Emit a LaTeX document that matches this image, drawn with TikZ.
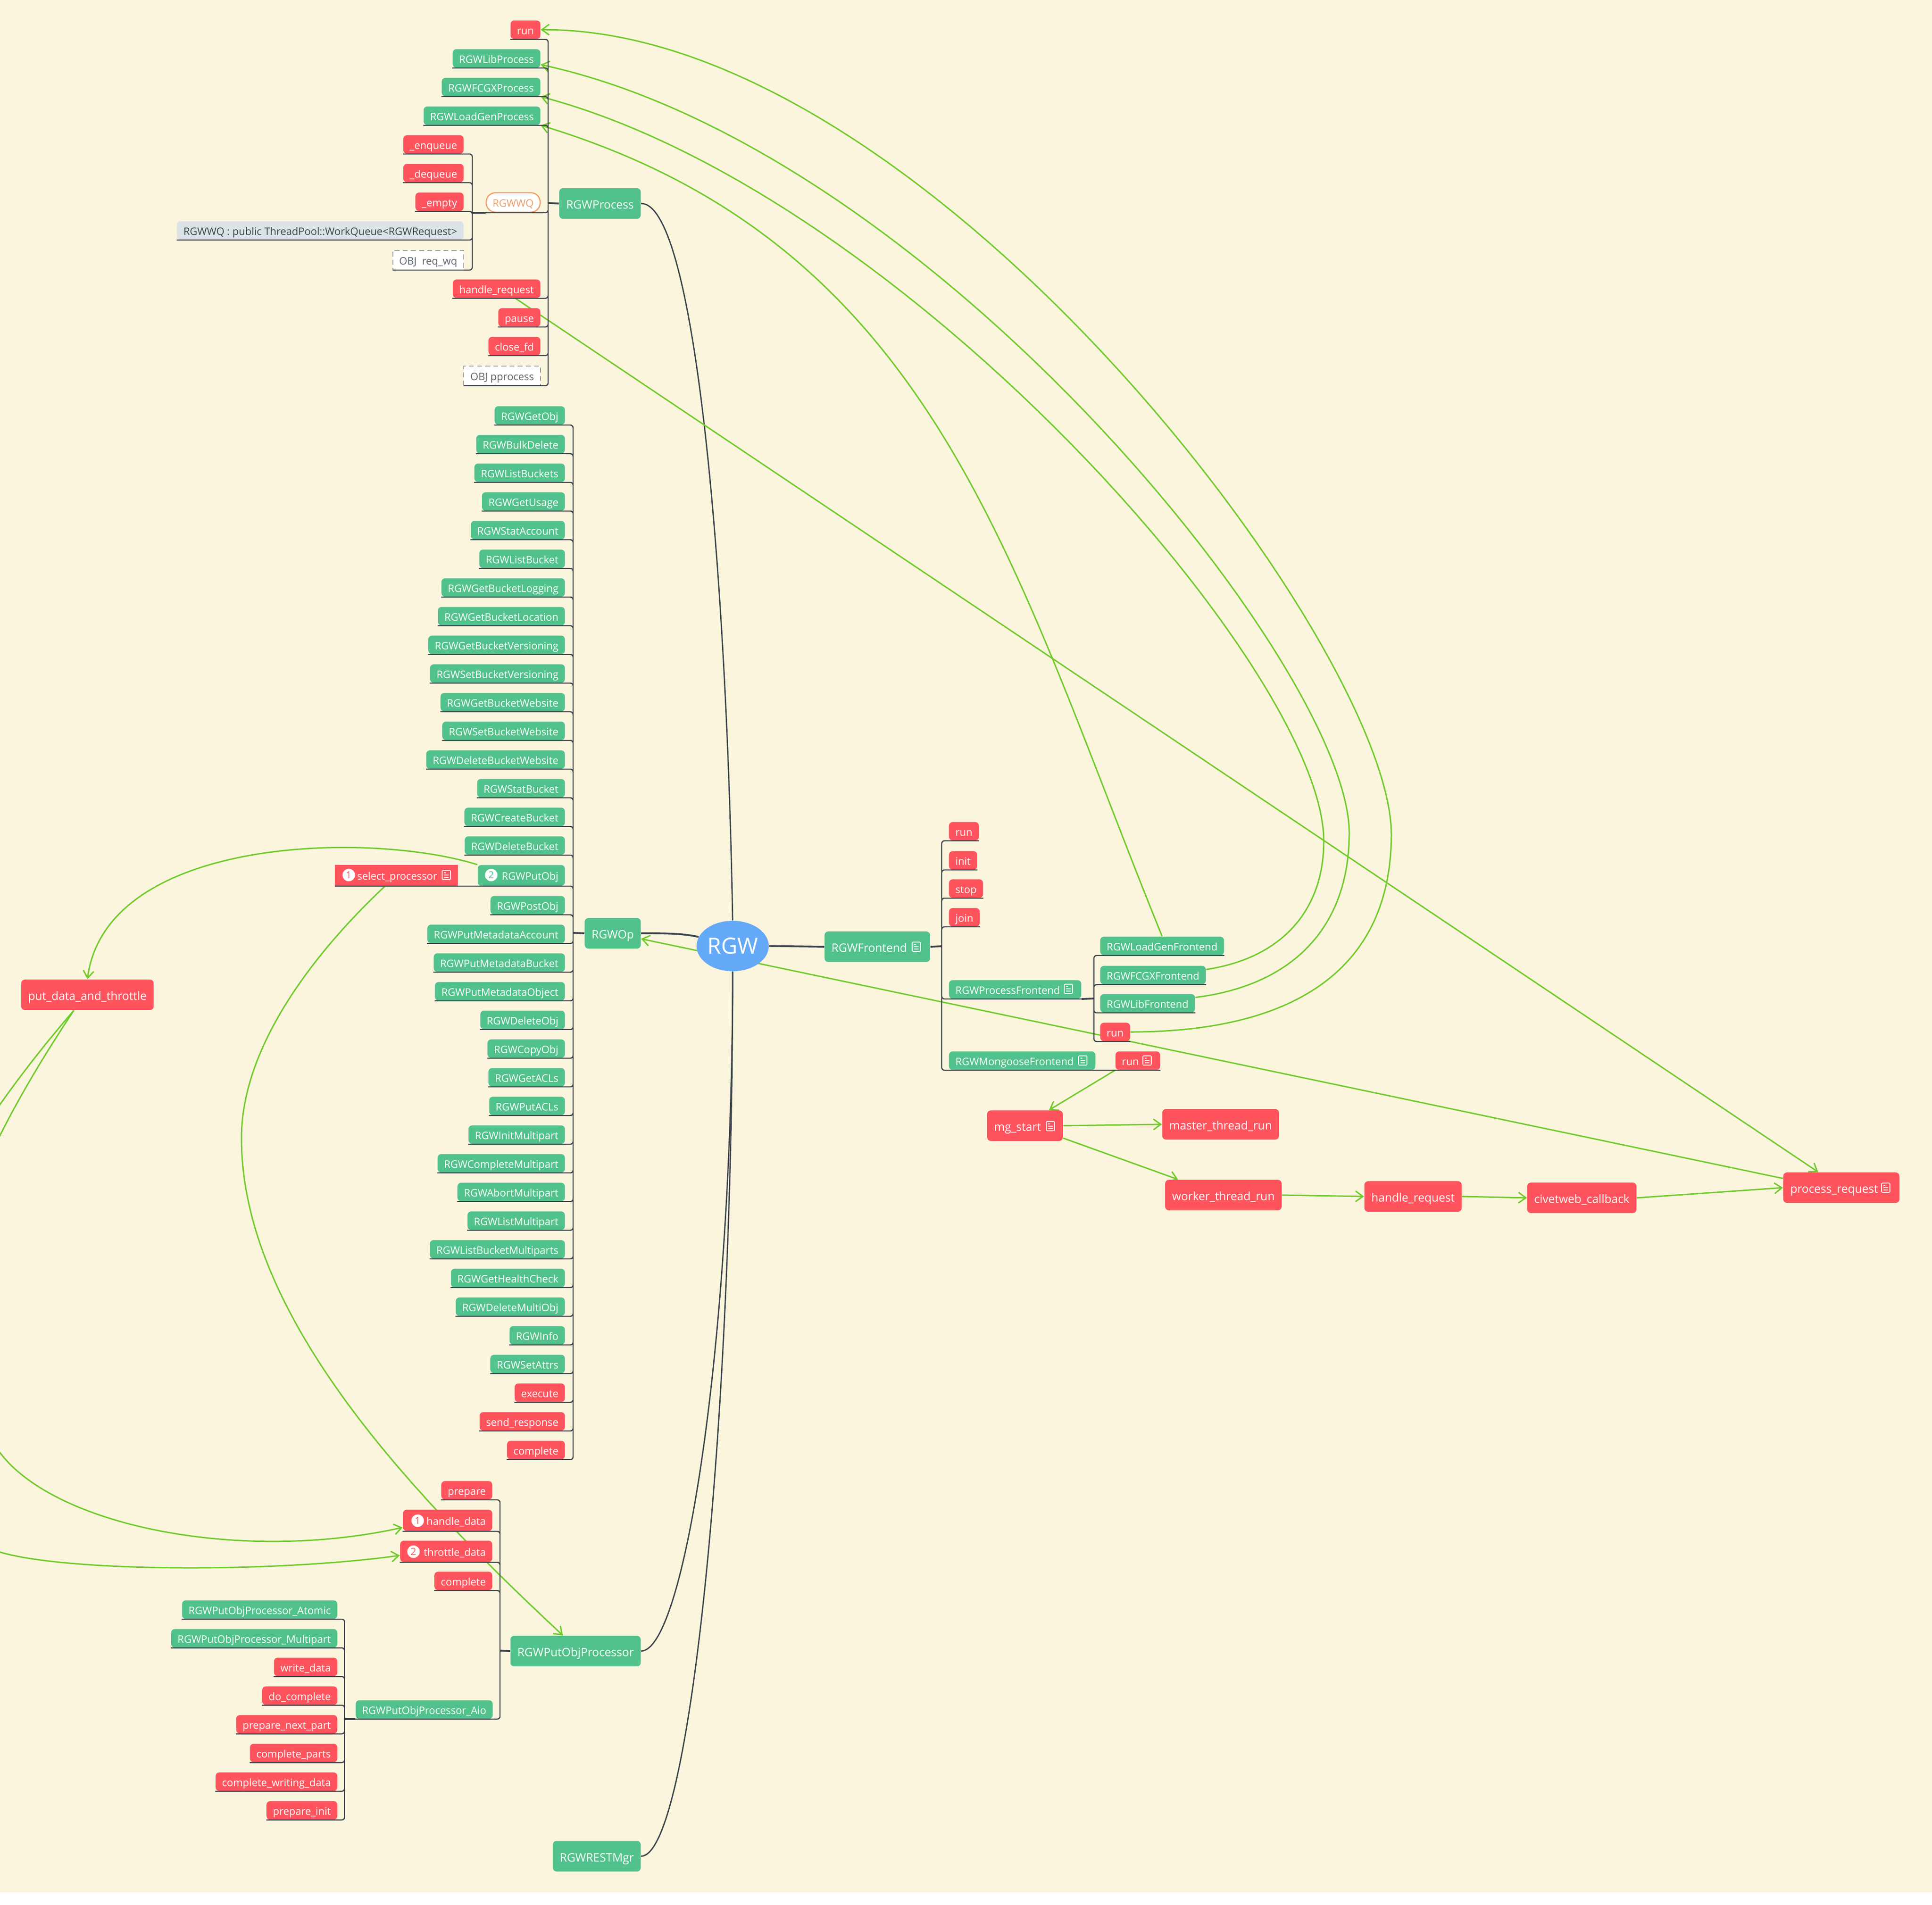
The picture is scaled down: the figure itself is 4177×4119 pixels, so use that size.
\documentclass[tikz,border=0pt]{standalone}
\usepackage{fontspec}
\setmainfont{Open Sans}
\usetikzlibrary{arrows.meta,shapes.geometric,positioning}
\definecolor{paper}{HTML}{FCF5DE}
\definecolor{leafgreen}{HTML}{51C28C}
\definecolor{leafred}{HTML}{FF535D}
\definecolor{rootblue}{HTML}{64A9F8}
\definecolor{branchdark}{HTML}{3D444C}
\definecolor{relgreen}{HTML}{6FCB2B}
\definecolor{wqorange}{HTML}{EE9C68}
\definecolor{wqgrey}{HTML}{DCE3E6}
\definecolor{objgrey}{HTML}{5C646C}
\pgfdeclarelayer{darklines}
\pgfdeclarelayer{rellines}
\pgfdeclarelayer{underlines}
\pgfsetlayers{darklines,rellines,main,underlines}
\tikzset{
  leaf/.style={anchor=south east,text=white,font=\fontsize{6.35}{8}\selectfont,rounded corners=.08cm,
    minimum height=.4cm,inner xsep=.14cm,inner ysep=0pt,text height=6.2pt,text depth=.6pt},
  gleaf/.style={leaf,fill=leafgreen},
  rleaf/.style={leaf,fill=leafred},
  objleaf/.style={leaf,fill=white,draw=objgrey,densely dashed,line width=.3pt,rounded corners=0pt,text=objgrey,minimum height=.42cm},
  big/.style={text=white,font=\fontsize{7.1}{9}\selectfont,rounded corners=.08cm,minimum height=.66cm,inner xsep=.15cm,inner ysep=0pt,
    text height=7.4pt,text depth=.8pt},
  gbig/.style={big,fill=leafgreen},
  rbig/.style={big,fill=leafred},
  badge/.style={circle,fill=white,inner sep=0pt,minimum size=.27cm,font=\fontsize{6}{7}\selectfont},
  branch/.style={draw=branchdark,line width=.7pt,rounded corners=.06cm},
  trunk/.style={draw=branchdark,line width=1.1pt},
  rel/.style={draw=relgreen,line width=.85pt,-{Straight Barb[length=4.5pt,width=6.5pt]}},
  noteicon/.pic={
    \draw[white,line width=.45pt,rounded corners=.02cm] (-9,-10) rectangle (9,10);
    \draw[white,line width=.45pt] (-5,-5) -- (-1,-5) (-5,0) -- (5,0) (-5,5) -- (5,5);
  }
}

\begin{document}
\begin{tikzpicture}[x=.01cm,y=-.01cm]
\useasboundingbox (0,0) rectangle (4177,4119);
\begin{pgfonlayer}{darklines}
\fill[white] (0,0) rectangle (4177,4119);
\fill[paper] (0,0) rectangle (4177,4092);
\end{pgfonlayer}

\node[ellipse,fill=rootblue,minimum width=1.56cm,minimum height=1.09cm,inner sep=0pt,text=white,font=\fontsize{13.7}{16}\selectfont] (rgw) at (1584,2045.5) {RGW};

\node[gbig,anchor=east] (rgwprocess) at (1386,440) {RGWProcess};
\node[gbig,anchor=east] (rgwop) at (1386,2018) {RGWOp};
\node[gbig,anchor=west] (rgwfrontend) at (1782,2047) {RGWFrontend\kern.35cm};
\node[gbig,anchor=east] (rgwputobjprocessor) at (1386,3570) {RGWPutObjProcessor};
\node[gbig,anchor=east] (rgwrestmgr) at (1386,4013.5) {RGWRESTMgr};

\coordinate (processspine) at (1185,439);
\coordinate (wqspine) at (1021,460);
\coordinate (opspine) at (1239,2017);
\coordinate (frontspine) at (2036,2046);
\coordinate (procfrontspine) at (2365,2159);
\coordinate (putprocspine) at (1081,3569);
\coordinate (aiospine) at (745,3717);

\node[rleaf] (processrun) at (1169,85) {run};
\node[gleaf] (rgwlibprocess) at (1169,147) {RGWLibProcess};
\node[gleaf] (rgwfcgxprocess) at (1169,209) {RGWFCGXProcess};
\node[gleaf] (rgwloadgenprocess) at (1169,271) {RGWLoadGenProcess};
\node[rleaf] (enqueue) at (1003,333) {\_enqueue};
\node[rleaf] (dequeue) at (1003,395) {\_dequeue};
\node[rleaf] (empty) at (1003,457) {\_empty};
\node[leaf,fill=wqgrey,text=branchdark] (wqcomment) at (1003,519) {RGWWQ : public ThreadPool::WorkQueue<RGWRequest>};
\node[objleaf] (reqwq) at (1003,584) {OBJ\ \ req\_wq};
\node[leaf,fill=white,draw=wqorange,line width=.7pt,text=wqorange,rounded corners=.2cm,minimum height=.42cm] (rgwwq) at (1169,460) {RGWWQ};
\node[rleaf] (handlerequest) at (1169,645) {handle\_request};
\node[rleaf] (pause) at (1169,707) {pause};
\node[rleaf] (closefd) at (1169,769) {close\_fd};
\node[objleaf] (pprocess) at (1169,834) {OBJ pprocess};

\node[gleaf] (getobj) at (1222,919) {RGWGetObj};
\node[gleaf] (bulkdelete) at (1222,981) {RGWBulkDelete};
\node[gleaf] (listbuckets) at (1222,1043) {RGWListBuckets};
\node[gleaf] (getusage) at (1222,1105) {RGWGetUsage};
\node[gleaf] (stataccount) at (1222,1167) {RGWStatAccount};
\node[gleaf] (listbucket) at (1222,1229) {RGWListBucket};
\node[gleaf] (getbucketlogging) at (1222,1291) {RGWGetBucketLogging};
\node[gleaf] (getbucketlocation) at (1222,1353) {RGWGetBucketLocation};
\node[gleaf] (getbucketversioning) at (1222,1415) {RGWGetBucketVersioning};
\node[gleaf] (setbucketversioning) at (1222,1477) {RGWSetBucketVersioning};
\node[gleaf] (getbucketwebsite) at (1222,1539) {RGWGetBucketWebsite};
\node[gleaf] (setbucketwebsite) at (1222,1601) {RGWSetBucketWebsite};
\node[gleaf] (deletebucketwebsite) at (1222,1663) {RGWDeleteBucketWebsite};
\node[gleaf] (statbucket) at (1222,1725) {RGWStatBucket};
\node[gleaf] (createbucket) at (1222,1787) {RGWCreateBucket};
\node[gleaf] (deletebucket) at (1222,1849) {RGWDeleteBucket};
\node[gleaf,minimum height=.45cm] (putobj) at (1222,1916) {\kern.38cm RGWPutObj};
\node[rleaf,rounded corners=0pt,minimum height=.45cm] (selectprocessor) at (991,1916) {\kern.34cm select\_processor\kern.31cm};
\node[gleaf] (postobj) at (1222,1978) {RGWPostObj};
\node[gleaf] (putmetaaccount) at (1222,2040) {RGWPutMetadataAccount};
\node[gleaf] (putmetabucket) at (1222,2102) {RGWPutMetadataBucket};
\node[gleaf] (putmetaobject) at (1222,2164) {RGWPutMetadataObject};
\node[gleaf] (deleteobj) at (1222,2226) {RGWDeleteObj};
\node[gleaf] (copyobj) at (1222,2288) {RGWCopyObj};
\node[gleaf] (getacls) at (1222,2350) {RGWGetACLs};
\node[gleaf] (putacls) at (1222,2412) {RGWPutACLs};
\node[gleaf] (initmultipart) at (1222,2474) {RGWInitMultipart};
\node[gleaf] (completemultipart) at (1222,2536) {RGWCompleteMultipart};
\node[gleaf] (abortmultipart) at (1222,2598) {RGWAbortMultipart};
\node[gleaf] (listmultipart) at (1222,2660) {RGWListMultipart};
\node[gleaf] (listbucketmultiparts) at (1222,2722) {RGWListBucketMultiparts};
\node[gleaf] (gethealthcheck) at (1222,2784) {RGWGetHealthCheck};
\node[gleaf] (deletemultiobj) at (1222,2846) {RGWDeleteMultiObj};
\node[gleaf] (rgwinfo) at (1222,2908) {RGWInfo};
\node[gleaf] (setattrs) at (1222,2970) {RGWSetAttrs};
\node[rleaf] (execute) at (1222,3032) {execute};
\node[rleaf] (sendresponse) at (1222,3094) {send\_response};
\node[rleaf] (opcomplete) at (1222,3156) {complete};

\node[rleaf,anchor=south west] (frontrun) at (2051,1818) {run};
\node[rleaf,anchor=south west] (frontinit) at (2051,1881) {init};
\node[rleaf,anchor=south west] (frontstop) at (2051,1942) {stop};
\node[rleaf,anchor=south west] (frontjoin) at (2051,2004) {join};
\node[gleaf,anchor=south west] (processfrontend) at (2051,2160) {RGWProcessFrontend\kern.32cm};
\node[gleaf,anchor=south west] (mongoosefrontend) at (2051,2314) {RGWMongooseFrontend\kern.33cm};
\node[rleaf,anchor=south west] (mongooserun) at (2411,2314) {run\kern.32cm};
\node[gleaf,anchor=south west] (loadgenfrontend) at (2378,2066) {RGWLoadGenFrontend};
\node[gleaf,anchor=south west] (fcgxfrontend) at (2378,2129) {RGWFCGXFrontend};
\node[gleaf,anchor=south west] (libfrontend) at (2378,2190) {RGWLibFrontend};
\node[rleaf,anchor=south west] (procfrontrun) at (2378,2252) {run};

\node[rbig] (mgstart) at (2216,2434) {mg\_start\kern.32cm};
\node[rbig] (masterthreadrun) at (2639,2431) {master\_thread\_run};
\node[rbig] (workerthreadrun) at (2645,2584) {worker\_thread\_run};
\node[rbig] (mghandlerequest) at (3055,2587) {handle\_request};
\node[rbig] (civetwebcallback) at (3420,2590) {civetweb\_callback};
\node[rbig] (processrequest) at (3981,2568) {process\_request\kern.31cm};
\node[rbig] (putdatathrottle) at (189,2151) {put\_data\_and\_throttle};

\node[rleaf] (prepare) at (1065,3243) {prepare};
\node[rleaf,minimum height=.46cm] (handledata) at (1065,3311) {\kern.37cm handle\_data};
\node[rleaf,minimum height=.46cm] (throttledata) at (1065,3378) {\kern.37cm throttle\_data};
\node[rleaf] (putcomplete) at (1065,3439) {complete};
\node[gleaf] (processoraio) at (1066,3717) {RGWPutObjProcessor\_Aio};
\node[gleaf] (processoratomic) at (730,3501) {RGWPutObjProcessor\_Atomic};
\node[gleaf] (processormultipart) at (730,3563) {RGWPutObjProcessor\_Multipart};
\node[rleaf] (writedata) at (730,3625) {write\_data};
\node[rleaf] (docomplete) at (730,3687) {do\_complete};
\node[rleaf] (preparenextpart) at (730,3749) {prepare\_next\_part};
\node[rleaf] (completeparts) at (730,3811) {complete\_parts};
\node[rleaf] (completewritingdata) at (730,3873) {complete\_writing\_data};
\node[rleaf] (prepareinit) at (730,3935) {prepare\_init};

\node[badge,text=leafred] (selectbadge) at (754,1892) {1};
\node[badge,text=leafgreen] (putobjbadge) at (1062,1892) {2};
\node[badge,text=leafred] (handlebadge) at (903,3288) {1};
\node[badge,text=leafred] (throttlebadge) at (894,3355) {2};

\pic at (1981,2047) {noteicon};
\pic at (2310,2138) {noteicon};
\pic at (2341,2293) {noteicon};
\pic at (2480,2293) {noteicon};
\pic at (2271,2435) {noteicon};
\pic at (4077,2568) {noteicon};
\pic at (965,1892) {noteicon};

\begin{pgfonlayer}{underlines}
\draw[branch] (processrun.south west) -| (processspine) (rgwlibprocess.south west) -| (processspine)
  (rgwfcgxprocess.south west) -| (processspine) (rgwloadgenprocess.south west) -| (processspine)
  (rgwwq.south west) -| (processspine) (handlerequest.south west) -| (processspine)
  (pause.south west) -| (processspine) (closefd.south west) -| (processspine) (pprocess.south west) -| (processspine);
\draw[branch] (enqueue.south west) -| (wqspine) (dequeue.south west) -| (wqspine) (empty.south west) -| (wqspine)
  (wqcomment.south west) -| (wqspine) (reqwq.south west) -| (wqspine);
\draw[branch] (getobj.south west) -| (opspine) (bulkdelete.south west) -| (opspine) (listbuckets.south west) -| (opspine)
  (getusage.south west) -| (opspine) (stataccount.south west) -| (opspine) (listbucket.south west) -| (opspine)
  (getbucketlogging.south west) -| (opspine) (getbucketlocation.south west) -| (opspine)
  (getbucketversioning.south west) -| (opspine) (setbucketversioning.south west) -| (opspine)
  (getbucketwebsite.south west) -| (opspine) (setbucketwebsite.south west) -| (opspine)
  (deletebucketwebsite.south west) -| (opspine) (statbucket.south west) -| (opspine)
  (createbucket.south west) -| (opspine) (deletebucket.south west) -| (opspine)
  (selectprocessor.south west) -| (opspine) (postobj.south west) -| (opspine)
  (putmetaaccount.south west) -| (opspine) (putmetabucket.south west) -| (opspine)
  (putmetaobject.south west) -| (opspine) (deleteobj.south west) -| (opspine) (copyobj.south west) -| (opspine)
  (getacls.south west) -| (opspine) (putacls.south west) -| (opspine) (initmultipart.south west) -| (opspine)
  (completemultipart.south west) -| (opspine) (abortmultipart.south west) -| (opspine)
  (listmultipart.south west) -| (opspine) (listbucketmultiparts.south west) -| (opspine)
  (gethealthcheck.south west) -| (opspine) (deletemultiobj.south west) -| (opspine) (rgwinfo.south west) -| (opspine)
  (setattrs.south west) -| (opspine) (execute.south west) -| (opspine) (sendresponse.south west) -| (opspine)
  (opcomplete.south west) -| (opspine);
\draw[branch] (frontrun.south east) -| (frontspine) (frontinit.south east) -| (frontspine) (frontstop.south east) -| (frontspine)
  (frontjoin.south east) -| (frontspine) (processfrontend.south east) -| (frontspine) (mongooserun.south east) -| (frontspine);
\draw[branch] (loadgenfrontend.south east) -| (procfrontspine) (fcgxfrontend.south east) -| (procfrontspine)
  (libfrontend.south east) -| (procfrontspine) (procfrontrun.south east) -| (procfrontspine);
\draw[branch] (prepare.south west) -| (putprocspine) (handledata.south west) -| (putprocspine)
  (throttledata.south west) -| (putprocspine) (putcomplete.south west) -| (putprocspine) (processoraio.south west) -| (putprocspine);
\draw[branch] (processoratomic.south west) -| (aiospine) (processormultipart.south west) -| (aiospine)
  (writedata.south west) -| (aiospine) (docomplete.south west) -| (aiospine) (preparenextpart.south west) -| (aiospine)
  (completeparts.south west) -| (aiospine) (completewritingdata.south west) -| (aiospine) (prepareinit.south west) -| (aiospine);
\end{pgfonlayer}

\begin{pgfonlayer}{darklines}
\draw[trunk] (processspine) -- (rgwprocess.west);
\draw[trunk] (wqspine) -- (rgwwq.south west);
\draw[trunk] (opspine) -- (rgwop.west);
\draw[trunk] (frontspine) -- (rgwfrontend.east);
\draw[trunk] (procfrontspine) -- (processfrontend.south east);
\draw[trunk] (putprocspine) -- (rgwputobjprocessor.west);
\draw[trunk] (aiospine) -- (processoraio.south west);
\draw[trunk] (rgw.east) -- (rgwfrontend.west);
\draw[trunk] (rgwop.east) .. controls (1440,2018) and (1475,2018) .. (rgw.165);
\draw[trunk,line width=.8pt] (rgwprocess.east) .. controls (1500,439) and (1570,1200) .. (rgw.north);
\draw[trunk,line width=.8pt] (rgwputobjprocessor.east) .. controls (1480,3569) and (1584,2900) .. (rgw.south);
\draw[trunk,line width=.8pt] (rgwrestmgr.east) .. controls (1490,4013) and (1584,3100) .. (rgw.south);
\end{pgfonlayer}

\begin{pgfonlayer}{rellines}
\draw[rel] (procfrontrun.east) .. controls (2820,2231) and (3008,2080) .. (3008,1804)
  .. controls (3008,1400) and (2000,60) .. (processrun.east);
\draw[rel] (libfrontend.7) .. controls (2800,2130) and (2917,2000) .. (2917,1801)
  .. controls (2917,1450) and (2020,324) .. (rgwlibprocess.-8);
\draw[rel] (fcgxfrontend.6) .. controls (2780,2070) and (2862,1960) .. (2862,1819)
  .. controls (2862,1450) and (1950,415) .. (rgwfcgxprocess.south east);
\draw[rel] (loadgenfrontend.north) .. controls (2187,1224) and (2025,530) .. (rgwloadgenprocess.south east);
\draw[rel] (handlerequest.-27) -- (processrequest.146);
\draw[rel] (processrequest.171) -- (rgwop.-11);
\draw[rel] (mongooserun.south west) -- (mgstart.33);
\draw[rel] (mgstart.east) -- (masterthreadrun.west);
\draw[rel] (mgstart.-18) -- (workerthreadrun.161);
\draw[rel] (workerthreadrun.east) -- (mghandlerequest.west);
\draw[rel] (mghandlerequest.east) -- (civetwebcallback.west);
\draw[rel] (civetwebcallback.east) -- (processrequest.west);
\draw[rel] (putobj.north west) .. controls (800,1797) and (230,1808) .. (putdatathrottle.north);
\draw[rel] (selectprocessor.-137) .. controls (700,2040) and (522,2250) .. (522,2461)
  .. controls (522,2850) and (900,3240) .. (rgwputobjprocessor.129);
\draw[rel] (putdatathrottle.-131) .. controls (-50,2500) and (-250,2900) .. (0,3141)
  .. controls (120,3300) and (520,3380) .. (handledata.189);
\draw[rel] (putdatathrottle.-131) .. controls (-200,2600) and (-500,3200) .. (0,3356)
  .. controls (150,3400) and (600,3400) .. (throttledata.185);
\end{pgfonlayer}
\end{tikzpicture}
\end{document}
